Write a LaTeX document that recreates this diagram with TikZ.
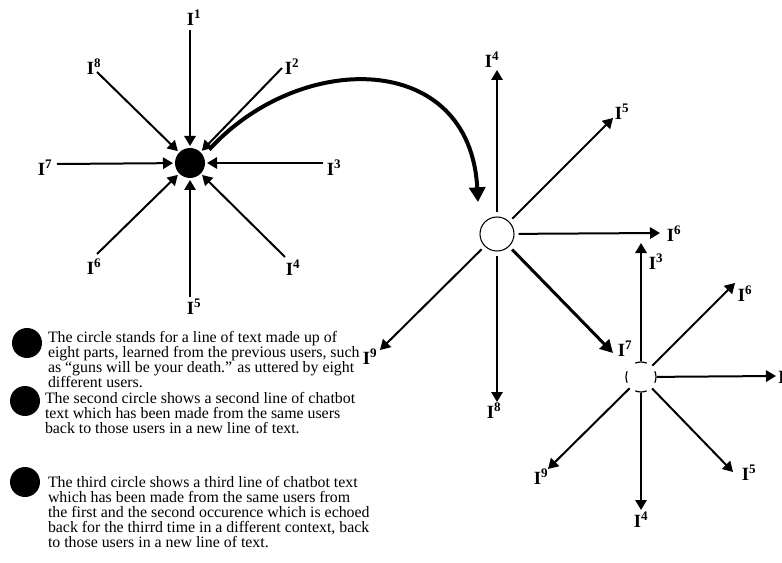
\documentclass[tikz,border=0pt]{standalone}
\usepackage{fontspec}
\setmainfont{Liberation Serif}
\usetikzlibrary{arrows.meta}
\newcommand{\lbl}[1]{I\textsuperscript{#1}}

\begin{document}
\begin{tikzpicture}[x=0.75pt,y=-0.75pt,
  every node/.style={inner sep=0pt,outer sep=0pt},
  tag/.style={font=\fontsize{14}{14}\selectfont\bfseries},
  hub/.style={circle,fill=black,minimum size=22.5pt,outer sep=1.5pt},
  echo/.style={circle,draw=black,fill=white,line width=0.8pt,minimum size=25.5pt,outer sep=3.5pt},
  rerun/.style={circle,minimum size=22.5pt,outer sep=0.8pt},
  ring/.style={line width=0.9pt},
  inarrow/.style={-{Triangle[length=7.5pt,width=8.5pt]},line width=1.5pt},
  outarrow/.style={-{Triangle[length=7.5pt,width=8.5pt]},line width=1.5pt},
  heavyarrow/.style={-{Triangle[length=9.5pt,width=10pt]},line width=2.25pt},
  jump/.style={-{Triangle[length=11pt,width=12pt]},line width=3pt,shorten <=5pt},
  dot/.style={circle,fill=black,minimum size=22.5pt},
  note/.style={anchor=north west,align=left,font=\fontsize{11.9}{11.3}\selectfont}
]
  \useasboundingbox (0,0) rectangle (782,563);
  % first line of text: eight users feeding in
  \node[hub] (first) at (190,163) {};
  \coordinate (f1) at (190,30);
  \coordinate (f2) at (282,68);
  \coordinate (f3) at (323,163);
  \coordinate (f4) at (285,257);
  \coordinate (f5) at (190,297);
  \coordinate (f6) at (97,254);
  \coordinate (f7) at (57,164);
  \coordinate (f8) at (97,72);
  \node[tag] (lf1) at (194,18) {\lbl{1}};
  \node[tag] (lf2) at (292,67) {\lbl{2}};
  \node[tag] (lf3) at (334,168) {\lbl{3}};
  \node[tag] (lf4) at (293,268) {\lbl{4}};
  \node[tag] (lf5) at (194,307) {\lbl{5}};
  \node[tag] (lf6) at (94,267) {\lbl{6}};
  \node[tag] (lf7) at (45,168) {\lbl{7}};
  \node[tag] (lf8) at (94,67) {\lbl{8}};
  \draw[inarrow] (f1) -- (first);
  \draw[inarrow] (f2) -- (first);
  \draw[inarrow] (f3) -- (first);
  \draw[inarrow] (f4) -- (first);
  \draw[inarrow] (f5) -- (first);
  \draw[inarrow] (f6) -- (first);
  \draw[inarrow] (f7) -- (first);
  \draw[inarrow] (f8) -- (first);
  % second line of text
  \node[echo] (second) at (497,234) {};
  \coordinate (s4) at (497,70);
  \coordinate (s5) at (613,118);
  \coordinate (s6) at (660,233);
  \coordinate (s7) at (613,353);
  \coordinate (s8) at (497,402);
  \coordinate (s9) at (380,350);
  \node[tag] (ls4) at (492,60) {\lbl{4}};
  \node[tag] (ls5) at (622,112) {\lbl{5}};
  \node[tag] (ls6) at (674,234) {\lbl{6}};
  \node[tag] (ls7) at (625,349) {\lbl{7}};
  \node[tag] (ls8) at (494,411) {\lbl{8}};
  \node[tag] (ls9) at (370,357) {\lbl{9}};
  \draw[outarrow] (second) -- (s4);
  \draw[outarrow] (second) -- (s5);
  \draw[outarrow] (second) -- (s6);
  \draw[heavyarrow] (second) -- (s7);
  \draw[outarrow] (second) -- (s8);
  \draw[outarrow] (second) -- (s9);
  \coordinate (land) at (478,202);
  \draw[jump] (first.30) .. controls (300,50) and (470,50) .. (land);
  % third line of text, broken ring
  \node[rerun] (third) at (641,377) {};
  \draw[ring] ([shift={(-22.5:15)}]third.center) arc[start angle=-22.5,end angle=22.5,radius=15];
  \draw[ring] ([shift={(67.5:15)}]third.center) arc[start angle=67.5,end angle=112.5,radius=15];
  \draw[ring] ([shift={(157.5:15)}]third.center) arc[start angle=157.5,end angle=202.5,radius=15];
  \draw[ring] ([shift={(247.5:15)}]third.center) arc[start angle=247.5,end angle=292.5,radius=15];
  \coordinate (t3) at (641,243);
  \coordinate (t6) at (735,283);
  \coordinate (te) at (776,376);
  \coordinate (t5) at (733,472);
  \coordinate (t4) at (641,510);
  \coordinate (t9) at (548,469);
  \node[tag] (lt3) at (656,262) {\lbl{3}};
  \node[tag] (lt6) at (745,294) {\lbl{6}};
  \node[tag,anchor=west] (lte) at (778,377) {I};
  \node[tag] (lt5) at (749,473) {\lbl{5}};
  \node[tag] (lt4) at (641,520) {\lbl{4}};
  \node[tag] (lt9) at (541,477) {\lbl{9}};
  \draw[outarrow] (third) -- (t3);
  \draw[outarrow] (third) -- (t6);
  \draw[outarrow] (third) -- (te);
  \draw[outarrow] (third) -- (t5);
  \draw[outarrow] (third) -- (t4);
  \draw[outarrow] (third) -- (t9);
  % legend
  \node[dot] (b1) at (27,343) {};
  \node[dot] (b2) at (25,401) {};
  \node[dot] (b3) at (25,482) {};
  \node[note] (n1) at (48,331) {The circle stands for a line of text made up of\\eight parts, learned from the previous users, such\\as ``guns will be your death.'' as uttered by eight\\different users.};
  \node[note] (n2) at (45,392) {The second circle shows a second line of chatbot\\text which has been made from the same users\\back to those users in a new line of text.};
  \node[note] (n3) at (48,476) {The third circle shows a third line of chatbot text\\which has been made from the same users from\\the first and the second occurence which is echoed\\back for the thirrd time in a different context, back\\to those users in a new line of text.};
\end{tikzpicture}
\end{document}
